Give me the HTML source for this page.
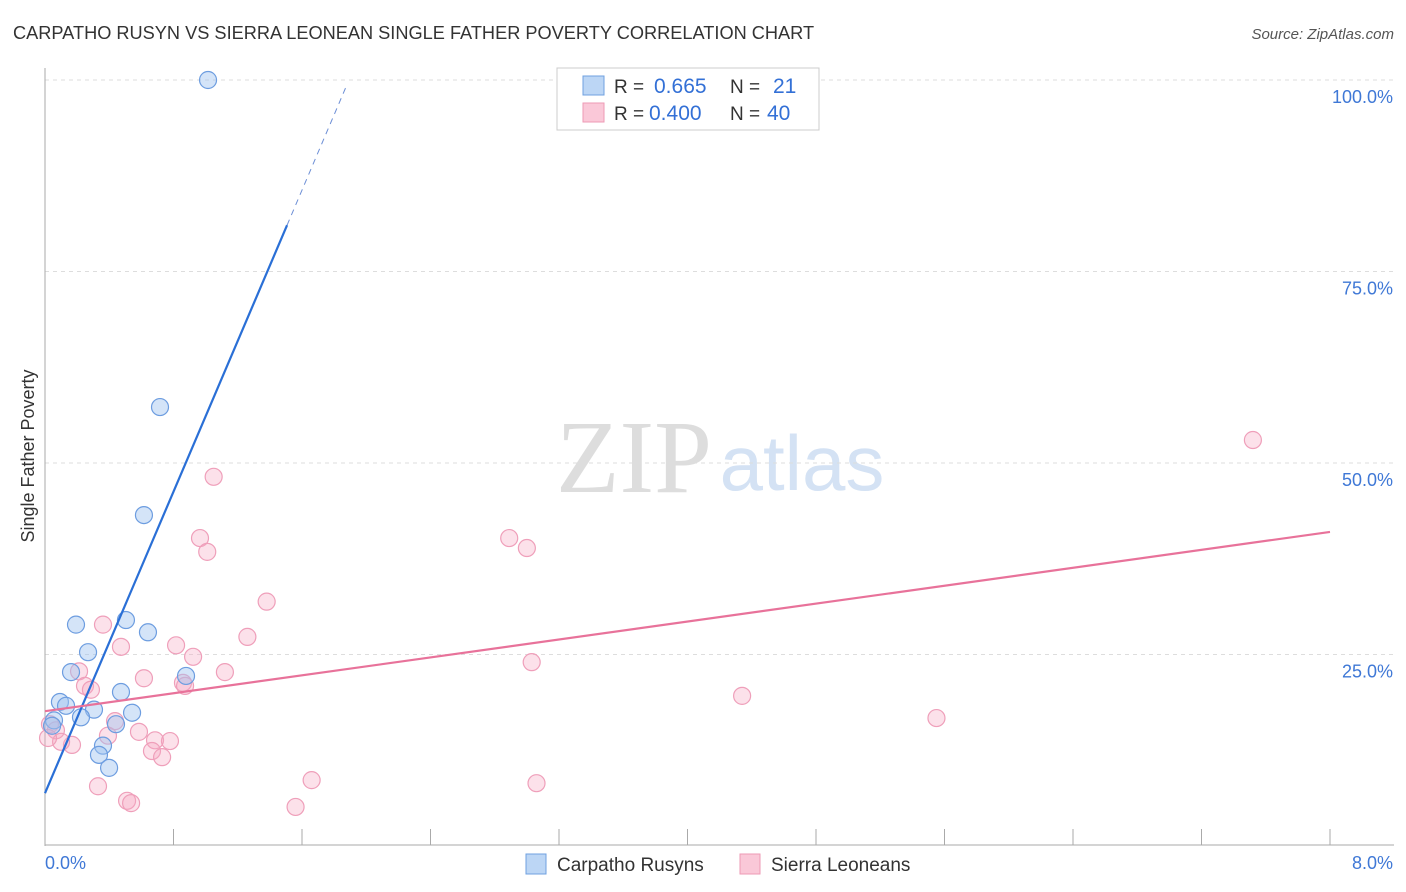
<!DOCTYPE html>
<html><head><meta charset="utf-8">
<style>
body{margin:0;background:#fff;font-family:"Liberation Sans",sans-serif;}
svg{display:block}
</style></head>
<body>
<svg id="chart" width="1406" height="892" xmlns="http://www.w3.org/2000/svg">
<text x="13" y="39" font-size="18.2" fill="#333">CARPATHO RUSYN VS SIERRA LEONEAN SINGLE FATHER POVERTY CORRELATION CHART</text>
<text x="1394" y="39" font-size="15" fill="#555" text-anchor="end" font-style="italic">Source: ZipAtlas.com</text>
<text transform="translate(34,456) rotate(-90)" font-size="18" fill="#333" text-anchor="middle">Single Father Poverty</text>
<g>
<text x="634" y="492" font-size="104" fill="#ddd" text-anchor="middle" font-family="Liberation Serif,serif">ZIP</text>
<text x="802" y="490" font-size="78" fill="#d4e2f4" text-anchor="middle">atlas</text>
</g>
<g id="grid"></g>
<g id="axes"></g>
<g id="marks"></g>
<g>
<rect x="557" y="68" width="262" height="62" fill="#fff" stroke="#ccc"/>
<rect x="583" y="76" width="21" height="19" fill="#bcd6f5" stroke="#6fa0e0"/>
<rect x="583" y="103" width="21" height="19" fill="#fac8d8" stroke="#ee9ab5"/>
<text x="614" y="93" font-size="19" fill="#333">R = <tspan fill="#3370d6" x="654" font-size="21">0.665</tspan><tspan x="730">N = </tspan><tspan fill="#3370d6" x="773" font-size="21">21</tspan></text>
<text x="614" y="120" font-size="19" fill="#333">R = <tspan fill="#3370d6" x="649" font-size="21">0.400</tspan><tspan x="730">N = </tspan><tspan fill="#3370d6" x="767" font-size="21">40</tspan></text>
</g>
<g>
<rect x="526" y="854" width="20" height="20" fill="#bcd6f5" stroke="#6fa0e0"/>
<text x="557" y="871" font-size="19" fill="#333">Carpatho Rusyns</text>
<rect x="740" y="854" width="20" height="20" fill="#fac8d8" stroke="#ee9ab5"/>
<text x="771" y="871" font-size="19" fill="#333">Sierra Leoneans</text>
</g>
</svg>
<script>
const yTicks=[25,50,75,100];
const yTickLabels=["25.0%","50.0%","75.0%","100.0%"];
const xTickLabels=["0.0%","8.0%"];
const blueX=[1.015,0.716,0.616,0.504,0.193,0.641,0.268,0.162,0.878,0.473,0.093,0.131,0.305,0.542,0.224,0.442,0.056,0.044,0.361,0.336,0.399];
const blueY=[100.0,57.3,43.2,29.5,28.9,27.9,25.3,22.7,22.2,20.1,18.8,18.3,17.8,17.4,16.8,15.9,16.4,15.7,13.1,11.9,10.2];
const pinkX=[7.52,1.05,0.965,2.89,3.00,1.01,1.38,0.361,1.26,0.816,0.473,0.922,3.03,0.212,1.12,0.616,0.859,0.872,0.249,0.286,4.34,5.55,0.436,0.585,0.392,0.031,0.068,0.685,0.778,0.168,0.100,0.666,0.729,0.330,3.06,1.66,0.511,0.536,1.56,0.019];
const pinkY=[53.0,48.2,40.2,40.2,38.9,38.4,31.9,28.9,27.3,26.2,26.0,24.7,24.0,22.8,22.7,21.9,21.3,20.9,20.9,20.4,19.6,16.7,16.3,14.9,14.4,15.9,15.1,13.8,13.7,13.2,13.6,12.4,11.6,7.8,8.2,8.6,5.9,5.6,5.1,14.1];
const blueTrend=[6.9,49.2]; // intercept, slope
const blueSolidEnd=1.507, blueDashEnd=1.88;
const pinkTrend=[17.6,2.925];
const xMax=8;

const NS="http://www.w3.org/2000/svg";
const X=v=>45+v*(1330-45)/8;
const Y=v=>846-v*7.66;
function mk(tag,attrs,parent){const e=document.createElementNS(NS,tag);for(const k in attrs)e.setAttribute(k,attrs[k]);parent.appendChild(e);return e;}
const grid=document.getElementById('grid'),axes=document.getElementById('axes'),marks=document.getElementById('marks');
yTicks.forEach((t,i)=>{
  const l=mk('line',{x1:45,x2:1394,y1:Y(t),y2:Y(t),stroke:'#ddd','stroke-dasharray':'4,4'},grid);
  
  
  const tx=mk('text',{x:1393,y:Y(t)+23,'font-size':18,fill:'#3f78d6','text-anchor':'end'},axes);
  tx.textContent=yTickLabels[i];
  
  
});
const ya=mk('line',{x1:45,x2:45,y1:68,y2:846,stroke:'#aaa'},axes);


const xa=mk('line',{x1:45,x2:1394,y1:845,y2:845,stroke:'#aaa'},axes);


for(let i=0;i<=10;i++){
  const v=i*0.8;
  const t=mk('line',{x1:X(v),x2:X(v),y1:829,y2:845,stroke:'#aaa'},axes);
  
  
}
[[0,'start',45],[xMax,'end',1393]].forEach((d,i)=>{
  const tx=mk('text',{x:d[2],y:869,'font-size':18,fill:'#3f78d6','text-anchor':d[1]},axes);
  tx.textContent=xTickLabels[i];
  
  
});
pinkX.forEach((x,i)=>{
  const c=mk('circle',{cx:X(x),cy:Y(pinkY[i]),r:8.5,fill:'rgba(246,170,195,0.35)',stroke:'#ef9fba','stroke-width':1.2},marks);
  
  
});
blueX.forEach((x,i)=>{
  const c=mk('circle',{cx:X(x),cy:Y(blueY[i]),r:8.5,fill:'rgba(160,195,240,0.45)',stroke:'#6d9de0','stroke-width':1.2},marks);
  
  
});
const bl=mk('line',{x1:X(0),y1:Y(blueTrend[0]),x2:X(blueSolidEnd),y2:Y(blueTrend[0]+blueTrend[1]*blueSolidEnd),stroke:'#2a6fd6','stroke-width':2.2},marks);


const bd=mk('line',{x1:X(blueSolidEnd),y1:Y(blueTrend[0]+blueTrend[1]*blueSolidEnd),x2:X(blueDashEnd),y2:Y(blueTrend[0]+blueTrend[1]*blueDashEnd),stroke:'#6d8fd6','stroke-width':1,'stroke-dasharray':'6,5'},marks);


const pl=mk('line',{x1:X(0),y1:Y(pinkTrend[0]),x2:X(xMax),y2:Y(pinkTrend[0]+pinkTrend[1]*xMax),stroke:'#e8729a','stroke-width':2.2},marks);


</script>
</body></html>
